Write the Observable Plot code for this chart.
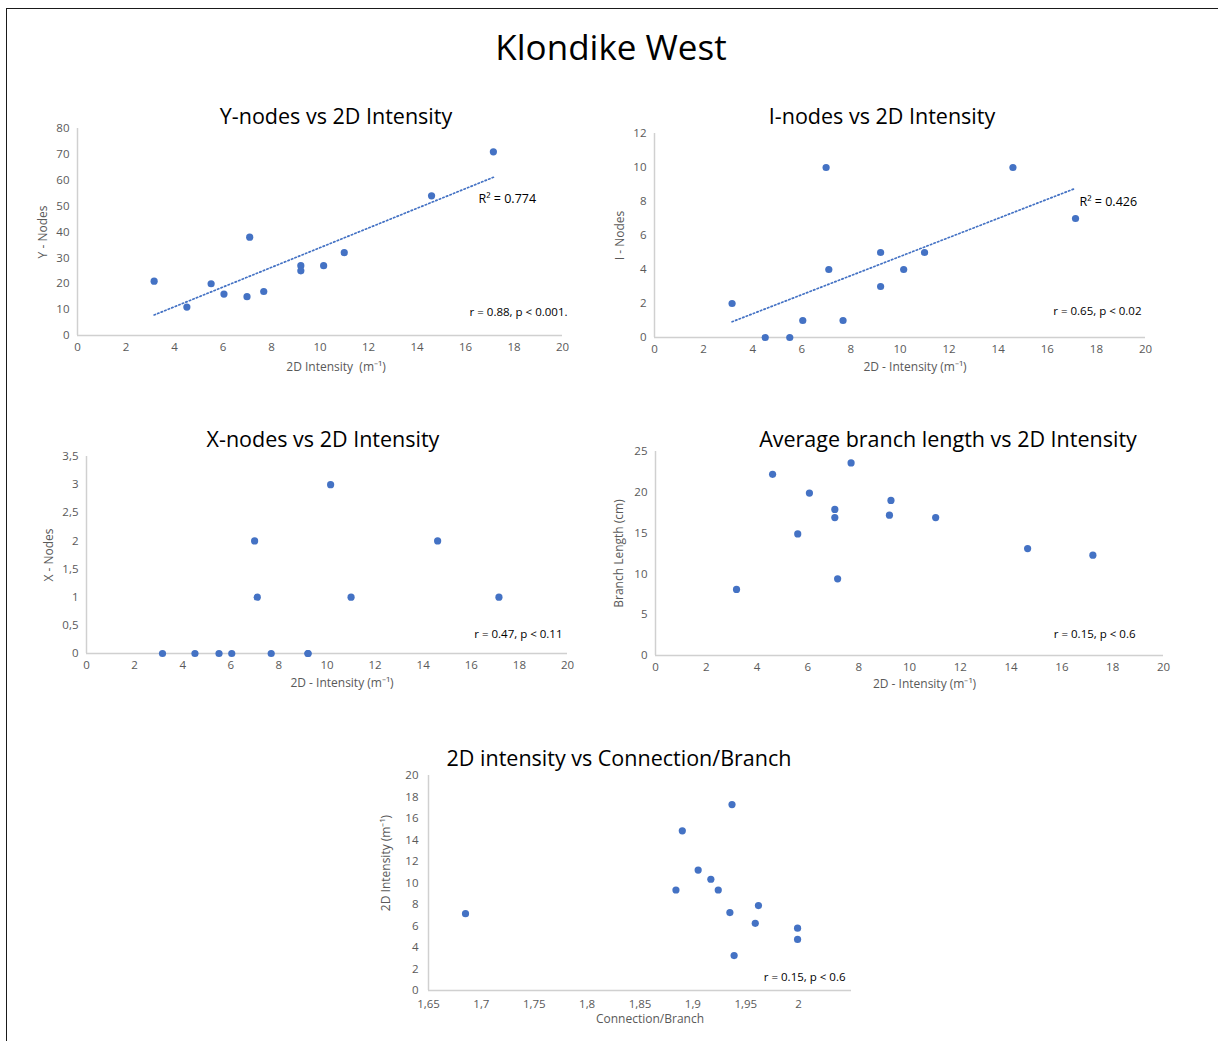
<!DOCTYPE html>
<html>
<head>
<meta charset="utf-8">
<script src="https://cdn.jsdelivr.net/npm/d3@7"></script>
<script src="https://cdn.jsdelivr.net/npm/@observablehq/plot@0.6"></script>
<style>
  html, body { margin: 0; padding: 0; background: #fff; overflow: hidden; }
  #root { position: relative; width: 1218px; height: 1041px; overflow: hidden; font-family: "Open Sans", sans-serif; }
  #frame { position: absolute; left: 6px; top: 8px; width: 1400px; height: 1200px; border-left: 1.6px solid #1a1a1a; border-top: 1.6px solid #1a1a1a; }
  .ttl { position: absolute; transform: translate(-50%, -50%); white-space: nowrap; line-height: 1; color: #000; }
  svg.panel { position: absolute; overflow: visible; }
</style>
</head>
<body>
<div id="root"><div id="frame"></div></div>
<script>
// ---------------- data ----------------
const intensity = [3.16, 4.51, 5.51, 6.04, 6.99, 7.10, 7.68, 9.21, 9.21, 10.15, 11.0, 14.6, 17.15];
const yNodes    = [21, 11, 20, 16, 15, 38, 17, 27, 25, 27, 32, 54, 71];
const iNodes    = [2, 0, 0, 1, 10, 4, 1, 5, 3, 4, 5, 10, 7];
const xNodes    = [0, 0, 0, 0, 2, 1, 0, 0, 0, 3, 1, 2, 1];

const branchIntensity = [3.19, 4.61, 5.60, 6.06, 7.06, 7.06, 7.17, 7.70, 9.21, 9.27, 11.03, 14.65, 17.22];
const branchLength    = [8.1, 22.2, 14.9, 19.9, 17.9, 16.9, 9.4, 23.6, 17.2, 19.0, 16.9, 13.1, 12.3];

const connBranch    = [1.685, 1.884, 1.890, 1.905, 1.917, 1.924, 1.935, 1.937, 1.939, 1.959, 1.962, 1.999, 1.999];
const connIntensity = [7.15, 9.35, 14.85, 11.2, 10.35, 9.35, 7.25, 17.3, 3.25, 6.25, 7.9, 5.8, 4.75];

// tick labels
const intensityTicks = [0, 2, 4, 6, 8, 10, 12, 14, 16, 18, 20];
const yNodeTicks     = [0, 10, 20, 30, 40, 50, 60, 70, 80];
const iNodeTicks     = [0, 2, 4, 6, 8, 10, 12];
const xNodeTicks     = [0, 0.5, 1, 1.5, 2, 2.5, 3, 3.5];
const branchTicks    = [0, 5, 10, 15, 20, 25];
const connTicks      = [1.65, 1.7, 1.75, 1.8, 1.85, 1.9, 1.95, 2];

// texts
const mainTitle = "Klondike West";
const titles = [
  "Y-nodes vs 2D Intensity",
  "I-nodes vs 2D Intensity",
  "X-nodes vs 2D Intensity",
  "Average branch length vs 2D Intensity",
  "2D intensity vs Connection/Branch"
];
const xLabels = ["2D Intensity  (m\u207B\u00B9)", "2D - Intensity (m\u207B\u00B9)", "2D - Intensity (m\u207B\u00B9)", "2D - Intensity (m\u207B\u00B9)", "Connection/Branch"];
const yLabels = ["Y - Nodes", "I - Nodes", "X - Nodes", "Branch Length (cm)", "2D Intensity (m\u207B\u00B9)"];
const rTexts = ["r = 0.88, p < 0.001.", "r = 0.65, p < 0.02", "r = 0.47, p < 0.11", "r = 0.15, p < 0.6", "r = 0.15, p < 0.6"];
const r2Texts = ["R\u00B2 = 0.774", "R\u00B2 = 0.426", null, null, null];

// ---------------- drawing ----------------
const root = document.getElementById("root");
const BLUE = "#4472C4";
const GRAY = "#595959";
const comma = d => String(d).replace(".", ",");

function addTitle(text, cx, cy, size) {
  const el = document.createElement("div");
  el.className = "ttl";
  el.textContent = text;
  el.style.left = cx + "px";
  el.style.top = cy + "px";
  el.style.fontSize = size + "px";
  root.appendChild(el);
}

function panel(cfg) {
  const [fx0, fx1, fy0, fy1] = cfg.frame;
  const pad = {l: 70, r: 40, t: 30, b: 50};
  const rows = cfg.xs.map((x, i) => ({x, y: cfg.ys[i]}));
  const fmt = cfg.comma ? comma : (d => String(d));
  const marks = [
    Plot.ruleY([cfg.yDomain[0]], {stroke: "#d0d0d0", strokeWidth: 1.5}),
    Plot.ruleX([cfg.xDomain[0]], {stroke: "#d0d0d0", strokeWidth: 1.5}),
    Plot.axisX({ticks: cfg.xTicks, tickSize: 0, tickPadding: cfg.xPad || 7, tickFormat: fmt, label: null, fill: GRAY, fontSize: 11.5}),
    Plot.axisY({ticks: cfg.yTicks, tickSize: 0, tickPadding: cfg.yPad || 8, tickFormat: fmt, label: null, fill: GRAY, fontSize: 11.5}),
    Plot.text([cfg.xLabel], {text: d => d, frameAnchor: "bottom", textAnchor: "middle", lineAnchor: "middle", dx: cfg.xl[0], dy: cfg.xl[1], fill: GRAY, fontSize: 12}),
    Plot.text([cfg.yLabel], {text: d => d, frameAnchor: "left", textAnchor: "middle", lineAnchor: "middle", rotate: -90, dx: cfg.yl[0], dy: cfg.yl[1], fill: GRAY, fontSize: 12})
  ];
  if (cfg.trend) {
    marks.push(Plot.linearRegressionY(rows, {x: "x", y: "y", ci: 0, stroke: BLUE, strokeWidth: 1.7, strokeDasharray: "1.4,2.4"}));
  }
  marks.push(Plot.dot(rows, {x: "x", y: "y", r: 3.6, fill: BLUE, stroke: "none"}));
  if (cfg.r2) {
    marks.push(Plot.text([cfg.r2], {text: d => d, frameAnchor: "top-right", textAnchor: "start", lineAnchor: "middle", dx: cfg.r2Pos[0], dy: cfg.r2Pos[1], fill: "#000", fontSize: 12.5}));
  }
  marks.push(Plot.text([cfg.rText], {text: d => d, frameAnchor: "bottom-right", textAnchor: "end", lineAnchor: "middle", dx: cfg.rPos[0], dy: cfg.rPos[1], fill: "#000", fontSize: 11.5}));

  const svg = Plot.plot({
    width: fx1 - fx0 + pad.l + pad.r,
    height: fy1 - fy0 + pad.t + pad.b,
    marginLeft: pad.l, marginRight: pad.r, marginTop: pad.t, marginBottom: pad.b,
    style: {fontFamily: "'Open Sans', sans-serif", background: "transparent", overflow: "visible", color: GRAY},
    x: {domain: cfg.xDomain},
    y: {domain: cfg.yDomain},
    marks
  });
  svg.classList.add("panel");
  svg.style.left = (fx0 - pad.l) + "px";
  svg.style.top = (fy0 - pad.t) + "px";
  root.appendChild(svg);
}

addTitle(mainTitle, 611, 46, 35);

panel({frame: [77, 562, 128, 335], xs: intensity, ys: yNodes, xDomain: [0, 20], yDomain: [0, 80],
  xTicks: intensityTicks, yTicks: yNodeTicks, xLabel: xLabels[0], yLabel: yLabels[0],
  xl: [16, 32], yl: [-34, 0], trend: true, r2: r2Texts[0], r2Pos: [-84, 70], rText: rTexts[0], rPos: [5, -23]});
addTitle(titles[0], 336, 116, 21.5);

panel({frame: [654, 1145, 133, 337], xs: intensity, ys: iNodes, xDomain: [0, 20], yDomain: [0, 12],
  xTicks: intensityTicks, yTicks: iNodeTicks, xLabel: xLabels[1], yLabel: yLabels[1],
  xl: [15, 30], yl: [-34, 0], trend: true, r2: r2Texts[1], r2Pos: [-66, 68], rText: rTexts[1], rPos: [-4, -26]});
addTitle(titles[1], 882, 116, 21.5);

panel({frame: [86, 567, 456, 653], xs: intensity, ys: xNodes, xDomain: [0, 20], yDomain: [0, 3.5],
  xTicks: intensityTicks, yTicks: xNodeTicks, xLabel: xLabels[2], yLabel: yLabels[2], comma: true,
  xl: [15, 30], yl: [-37, 0], trend: false, rText: rTexts[2], rPos: [-5, -19]});
addTitle(titles[2], 323, 439, 21.5);

panel({frame: [655, 1163, 451, 655], xs: branchIntensity, ys: branchLength, xDomain: [0, 20], yDomain: [0, 25],
  xTicks: intensityTicks, yTicks: branchTicks, xLabel: xLabels[3], yLabel: yLabels[3],
  xl: [15, 29], yl: [-36, 0], trend: false, rText: rTexts[3], rPos: [-28, -21]});
addTitle(titles[3], 948, 439, 21.5);

panel({frame: [428, 851, 775, 990], xs: connBranch, ys: connIntensity, xDomain: [1.65, 2.05], yDomain: [0, 20],
  xTicks: connTicks, yTicks: intensityTicks, xLabel: xLabels[4], yLabel: yLabels[4], comma: true, xPad: 9, yPad: 10,
  xl: [10, 29], yl: [-42, -20], trend: false, rText: rTexts[4], rPos: [-6, -13]});
addTitle(titles[4], 619, 758, 21.5);
</script>
</body>
</html>
